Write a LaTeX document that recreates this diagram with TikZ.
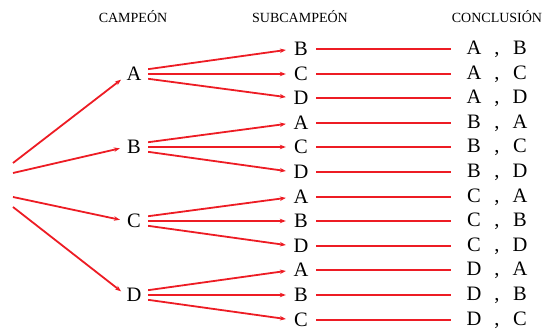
\documentclass[tikz,border=0pt]{standalone}
\usepackage{fontspec}
\setmainfont{Liberation Serif}
\usetikzlibrary{arrows.meta,calc}
\definecolor{tred}{RGB}{237,28,36}
\begin{document}
\begin{tikzpicture}[x=1pt,y=-1pt,
  head/.style={font=\fontsize{14}{16}\selectfont, inner sep=0pt},
  letter/.style={font=\fontsize{20.5}{22}\selectfont, inner sep=0pt},
  conn/.style={draw=tred, line width=1.8pt},
  arr/.style={conn, -{Stealth[length=6pt,width=4.5pt]}}]
\useasboundingbox (0,0) rectangle (544,331);
% headers
\node[head] (h1) at (133,17) {CAMPEÓN};
\node[head] (h2) at (300,17) {SUBCAMPEÓN};
\node[head] (h3) at (497,17) {CONCLUSIÓN};
% campeon
\node[letter] (cA) at (134,74) {\makebox[16pt]{A}};
\node[letter] (cB) at (134,147) {\makebox[16pt]{B}};
\node[letter] (cC) at (134,221) {\makebox[16pt]{C}};
\node[letter] (cD) at (134,295) {\makebox[16pt]{D}};
% root coordinates
\coordinate (r1) at (13,163);
\coordinate (r2) at (13,173);
\coordinate (r3) at (13,197);
\coordinate (r4) at (13,207);
\draw[arr, shorten >=6pt] (r1) -- ([yshift=-2pt]cA.west);
\draw[arr, shorten >=6pt] (r2) -- (cB.west);
\draw[arr, shorten >=6pt] (r3) -- (cC.west);
\draw[arr, shorten >=6pt] (r4) -- (cD.west);
% subcampeon and conclusions
\foreach \i/\y/\s/\a/\b in {1/49/B/A/B, 2/74/C/A/C, 3/98/D/A/D, 4/123/A/B/A, 5/147/C/B/C, 6/172/D/B/D,
  7/197/A/C/A, 8/221/B/C/B, 9/246/D/C/D, 10/270/A/D/A, 11/295/B/D/B, 12/320/C/D/C}{
  \node[letter] (s\i) at (301,\y) {\makebox[16pt]{\s}};
  \node[letter] (k\i) at (497,\y) {\makebox[60pt]{\makebox[14pt]{\a}\hfill,\hfill\makebox[14pt]{\b}}};
  \draw[conn, shorten <=7pt, shorten >=16pt] (s\i.east) -- (k\i.west);
}
% campeon to subcampeon
\foreach \c/\x/\y/\z in {A/1/2/3, B/4/5/6, C/7/8/9, D/10/11/12}{
  \draw[arr, shorten <=6pt, shorten >=7pt] ([yshift=4pt]c\c.east) -- (s\x.west);
  \draw[arr, shorten <=6pt, shorten >=7pt] (c\c.east) -- (s\y.west);
  \draw[arr, shorten <=6pt, shorten >=7pt] ([yshift=-4pt]c\c.east) -- (s\z.west);
}
\end{tikzpicture}
\end{document}
